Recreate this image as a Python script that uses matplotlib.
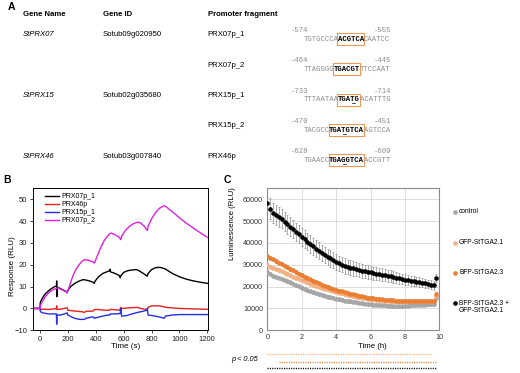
import matplotlib
matplotlib.use("Agg")
import matplotlib.pyplot as plt
import matplotlib.transforms as mtransforms
import numpy as np
from matplotlib.patches import Rectangle

plt.rcParams["font.family"] = ["Liberation Sans", "DejaVu Sans"]

# ---------------- panel A: table ----------------
gene_names = ["StPRX07", "", "StPRX15", "", "StPRX46"]
gene_ids = ["Sotub09g020950", "", "Sotub02g035680", "", "Sotub03g007840"]
fragments = ["PRX07p_1", "PRX07p_2", "PRX15p_1", "PRX15p_2", "PRX46p"]
pos_start = ["-574", "-464", "-733", "-470", "-628"]
pos_end = ["-555", "-445", "-714", "-451", "-609"]
seq_left = ["TGTGCCCA", "TTAGGGG", "TTTAATAA", "TACGCC", "TGAACC"]
seq_motif = ["ACGTCA", "TGACGT", "TGATG", "TGATGTCA", "TGAGGTCA"]
seq_right = ["CAATCC", "TTCCAAT", "ACATTTG", "AGTCCA", "ACCGTT"]
underline_idx = [None, None, 3, 3, 3]

# ---------------- panel B: SPR sensorgrams ----------------
b_labels = ["PRX07p_1", "PRX46p", "PRX15p_1", "PRX07p_2"]
b_colors = ["black", "#E8201E", "#2630E0", "#E020E0"]

prx07p1_t = [-50, 0, 2, 5, 20, 40, 60, 80, 100, 118, 120, 121, 122, 150, 180, 190, 195, 200,
             220, 250, 280, 310, 330, 360, 380, 390, 395, 420, 450, 480, 500, 502, 505,
             540, 570, 575, 580, 600, 630, 660, 690, 700, 730, 760, 770, 775, 800, 830,
             860, 880, 900, 950, 1000, 1050, 1100, 1150, 1200]
prx07p1_r = [0, 0, 2.5, 3.2, 5, 6.8, 8, 9, 9.8, 10.3, 12.6, 5.4, 9.8, 9, 8, 7.7, 7.5, 8.3,
             10, 11.5, 12.5, 13.2, 13, 12.5, 12, 11.5, 12.5, 14.5, 16, 16.8, 17.3, 18, 16.8,
             16, 15, 14, 15, 16.5, 17.3, 17.6, 17.8, 17.6, 16.5, 15.2, 14.8, 16, 17.8, 18.7,
             18.8, 18.5, 18, 16, 14.5, 13.4, 12.6, 12, 11.5]

prx46p_t = [-50, 0, 5, 30, 60, 100, 118, 120, 122, 150, 195, 200, 250, 300, 320, 330, 380,
            390, 420, 460, 500, 505, 570, 580, 585, 650, 700, 720, 770, 775, 800, 850,
            890, 900, 1000, 1100, 1200]
prx46p_r = [0, 0, -0.5, -0.3, -0.5, -0.2, 0, 1.2, -0.5, -0.3, 0.3, -0.8, -1.2, -1.5, -1.8,
            -1.3, -1.2, -0.5, -0.5, -0.8, -0.8, -0.4, -0.8, 0.5, 0, 0.3, 0.5, 0, -0.5, 0.5,
            1.2, 1.2, 0.8, 0.5, 0, -0.2, -0.4]

prx15p1_t = [-50, 0, 3, 20, 60, 110, 118, 120, 122, 150, 190, 195, 200, 240, 280, 320, 330,
             380, 390, 400, 430, 470, 500, 505, 550, 575, 580, 585, 620, 660, 700, 740,
             765, 770, 775, 800, 850, 890, 900, 950, 1000, 1100, 1200]
prx15p1_r = [0, 0, -1.5, -2, -2.5, -2.5, -2.5, -7.2, -3, -3, -2.2, -2, -3, -4.3, -5, -5,
             -4.5, -3.8, -4.5, -4.3, -3.8, -3.2, -3, -2.5, -2.5, -2.3, 0, -3.5, -3.3, -2.5,
             -1.8, -1.3, -0.8, 0, -3, -3.2, -3.8, -4.5, -3.5, -3, -2.8, -2.8, -2.8]

prx07p2_t = [-50, 0, 5, 20, 40, 60, 80, 100, 120, 125, 150, 190, 195, 200, 220, 240, 260,
             280, 300, 315, 330, 350, 380, 390, 395, 420, 440, 460, 480, 500, 510, 530,
             560, 575, 580, 585, 610, 640, 670, 700, 720, 750, 765, 770, 775, 800, 830,
             860, 890, 900, 950, 1000, 1050, 1100, 1150, 1200]
prx07p2_r = [0, 0, 1.5, 3.5, 5.5, 7, 8, 8.8, 9.2, 9.5, 8.8, 7.5, 7, 8, 12, 15.5, 18, 20,
             21.5, 22.2, 22.3, 22, 21.3, 20.8, 21.5, 25.5, 28.5, 31, 32.8, 34.2, 34.5, 34,
             33, 32, 31.5, 33, 35.5, 37.5, 38.8, 39.5, 39.2, 37.5, 36, 35.8, 37.5, 41, 44,
             46, 47, 46.8, 44.2, 41.5, 39, 36.8, 34.6, 32.6]

# ---------------- panel C: luminescence time course ----------------
time_min = list(range(0, 600, 10))
c_labels = ["control", "GFP-StTGA2.1", "BFP-StTGA2.3", "BFP-StTGA2.3 +\nGFP-StTGA2.1"]
c_colors = ["#A6A6A6", "#F4B183", "#ED7D31", "black"]

control = [26900, 25800, 25000, 24600, 24100, 23600, 23000, 22400, 21900, 21300,
           20700, 20200, 19500, 18900, 18400, 17900, 17400, 17000, 16600, 16200,
           15800, 15400, 15100, 14800, 14500, 14200, 13900, 13600, 13400, 13200,
           13000, 12800, 12600, 12400, 12200, 12000, 11900, 11800, 11700, 11600,
           11500, 11400, 11300, 11200, 11100, 11100, 11000, 11100, 11200, 11300,
           11400, 11500, 11600, 11700, 11800, 11800, 11900, 11900, 12000, 15000]
gfp_tga21 = [30000, 29200, 28700, 28200, 27600, 27000, 26400, 25800, 25200, 24600,
             24000, 23500, 23000, 22400, 21900, 21400, 20900, 20400, 20000, 19500,
             19100, 18700, 18300, 17900, 17600, 17200, 16900, 16600, 16300, 16000,
             15700, 15400, 15200, 15000, 14700, 14500, 14300, 14100, 14000, 13800,
             13700, 13600, 13500, 13400, 13300, 13300, 13200, 13200, 13200, 13200,
             13200, 13200, 13200, 13200, 13200, 13300, 13300, 13300, 13300, 15800]
bfp_tga23 = [34000, 33000, 32500, 31800, 31000, 30300, 29600, 28900, 28100, 27400,
             26700, 26000, 25300, 24600, 23900, 23300, 22600, 22000, 21500, 20900,
             20400, 19900, 19400, 19000, 18600, 18200, 17800, 17400, 17000, 16700,
             16400, 16100, 15800, 15500, 15200, 15000, 14800, 14600, 14400, 14300,
             14100, 14000, 13900, 13800, 13700, 13600, 13600, 13500, 13500, 13500,
             13500, 13500, 13500, 13500, 13500, 13500, 13600, 13600, 13600, 16800]
both = [58200, 55600, 53500, 52900, 52000, 51000, 49800, 48600, 47400, 46300,
        45100, 44000, 42900, 41700, 40600, 39500, 38400, 37400, 36400, 35400,
        34500, 33700, 32900, 32100, 31200, 30600, 30000, 29500, 29000, 28600,
        28300, 28000, 27700, 27300, 27000, 26700, 26500, 26200, 26000, 25700,
        25500, 25200, 25000, 24700, 24400, 24100, 23800, 23500, 23200, 23000,
        22700, 22500, 22300, 22100, 21800, 21500, 21200, 20900, 20600, 23800]
both_sd = [3000, 4800, 4600, 4500, 4500, 4400, 4400, 4300, 4300, 4200,
           4200, 4100, 4100, 4000, 4000, 3900, 3900, 3900, 3800, 3800,
           3800, 3700, 3700, 3700, 3600, 3600, 3500, 3500, 3400, 3400,
           3300, 3300, 3200, 3200, 3100, 3100, 3000, 3000, 2900, 2900,
           2800, 2800, 2700, 2700, 2600, 2600, 2500, 2500, 2400, 2400,
           2300, 2300, 2200, 2200, 2100, 2100, 2000, 2000, 2000, 1800]
small_sd = [700, 700, 800]  # control, GFP, BFP
sig_ranges = [(0.0, 9.5), (0.7, 9.85), (0.0, 9.85)]  # GFP, BFP, both (h)
sig_colors = ["#F4B183", "#ED7D31", "black"]

W, H = 520, 373
fig = plt.figure(figsize=(W / 100, H / 100), dpi=100)
fig.patch.set_facecolor("white")

# overlay in pixel coordinates for table text and free labels
ax0 = fig.add_axes([0, 0, 1, 1])
ax0.set_xlim(0, W)
ax0.set_ylim(H, 0)
ax0.axis("off")

fs_tab = 5.6
ax0.text(11, 7, "A", fontsize=7.5, fontweight="bold", ha="center", va="center")
ax0.text(23, 14, "Gene Name", fontsize=fs_tab, fontweight="bold", va="center")
ax0.text(103, 14, "Gene ID", fontsize=fs_tab, fontweight="bold", va="center")
ax0.text(207.5, 14, "Promoter fragment", fontsize=fs_tab, fontweight="bold", va="center")

mono = "Liberation Mono"
fs_seq = 5.2
cw = 0.6 * fs_seq * 100 / 72
seq_x0 = 303.3
row_y0, row_dy = 35.0, 30.3
for i in range(len(fragments)):
    y = row_y0 + i * row_dy
    ax0.text(23, y, gene_names[i], fontsize=fs_tab, fontstyle="italic", va="center")
    ax0.text(103, y, gene_ids[i], fontsize=fs_tab, va="center")
    ax0.text(207.5, y, fragments[i], fontsize=fs_tab, va="center")
    ny, sy = y - 4.3, y + 4.2
    ax0.text(291, ny, pos_start[i], family=mono, fontsize=fs_seq, color="#8C8C8C",
             ha="left", va="center")
    ax0.text(391, ny, pos_end[i], family=mono, fontsize=fs_seq, color="#8C8C8C",
             ha="right", va="center")
    n1, n2 = len(seq_left[i]), len(seq_motif[i])
    ax0.text(seq_x0, sy, seq_left[i], family=mono, fontsize=fs_seq, color="#8C8C8C",
             ha="left", va="center")
    ax0.text(seq_x0 + n1 * cw, sy, seq_motif[i], family=mono, fontsize=fs_seq,
             fontweight="bold", color="black", ha="left", va="center")
    ax0.text(seq_x0 + (n1 + n2) * cw, sy, seq_right[i], family=mono, fontsize=fs_seq,
             color="#8C8C8C", ha="left", va="center")
    bx = seq_x0 + n1 * cw - 0.6
    ax0.add_patch(Rectangle((bx, sy - 6.2), n2 * cw + 1.0, 12.0, fill=False,
                            edgecolor="#EE9A55", lw=0.8))
    if underline_idx[i] is not None:
        ux = seq_x0 + (n1 + underline_idx[i]) * cw
        ax0.plot([ux + 0.8, ux + cw - 0.8], [sy + 3.6, sy + 3.6], color="black", lw=0.5)

# ---------------- panel B ----------------
axB = fig.add_axes([32.7 / W, 1 - 330.3 / H, 175.6 / W, 142 / H])
b_t = [prx07p1_t, prx46p_t, prx15p1_t, prx07p2_t]
b_r = [prx07p1_r, prx46p_r, prx15p1_r, prx07p2_r]
for t, r, c, lab in zip(b_t, b_r, b_colors, b_labels):
    axB.plot(t, r, color=c, lw=1.0, label=lab)
axB.set_xlim(-52, 1207)
axB.set_ylim(-10, 55)
axB.set_xticks(np.arange(0, 1201, 200))
axB.set_yticks(np.arange(-10, 51, 10))
axB.tick_params(direction="out", length=2.5, width=0.6, labelsize=5.5, pad=1.5,
                colors="#222222")
for sp in axB.spines.values():
    sp.set_linewidth(0.7)
axB.legend(loc="upper left", bbox_to_anchor=(0.045, 1.0), frameon=False, fontsize=5,
           handlelength=2.0, labelspacing=0.15, handletextpad=0.3, borderaxespad=0.3)
ax0.text(6.7, 179.7, "B", fontsize=7.5, fontweight="bold", ha="center", va="center")
ax0.text(126, 346.7, "Time (s)", fontsize=5.8, ha="center", va="center")
ax0.text(12.7, 266, "Response (RLU)", fontsize=5.8, rotation=90, ha="center", va="center")

# ---------------- panel C ----------------
axC = fig.add_axes([267.3 / W, 1 - 330.3 / H, 172 / W, 142 / H])
t_h = np.array(time_min) / 60.0
c_vals = [control, gfp_tga21, bfp_tga23, both]
c_sd = [np.full(len(time_min), s) for s in small_sd] + [np.array(both_sd)]
for v, sd, c in zip(c_vals, c_sd, c_colors):
    axC.errorbar(t_h, v, yerr=sd, fmt="o", ms=2.3, mfc=c, mec=c, ecolor="#8C8C8C",
                 elinewidth=0.5, capsize=1.0, capthick=0.5, zorder=3)
axC.set_xlim(0, 10)
axC.set_ylim(0, 65000)
axC.set_xticks(np.arange(0, 11, 2))
axC.set_yticks(np.arange(0, 60001, 10000))
axC.grid(color="#D9D9D9", lw=0.6)
axC.set_axisbelow(True)
axC.tick_params(length=0, labelsize=5.2, pad=3, colors="#333333")
for sp in axC.spines.values():
    sp.set_color("#8C8C8C")
    sp.set_linewidth(0.8)
ax0.text(227, 180, "C", fontsize=7.5, fontweight="bold", ha="center", va="center")
ax0.text(372, 346.7, "Time (h)", fontsize=5.6, ha="center", va="center")
ax0.text(233, 224, "Luminescence (RLU)", fontsize=5.6, rotation=90, ha="center",
         va="center")

# legend for C
leg_y = [211.7, 242.7, 272.7, 302.7]
for y, c, lab in zip(leg_y, c_colors, c_labels):
    ax0.plot(455, y, "o", ms=2.3, color=c)
    if "\n" in lab:
        ax0.text(459, y - 2.5, lab, fontsize=4.8, ha="left", va="top", linespacing=1.05)
    else:
        ax0.text(459, y, lab, fontsize=4.8, ha="left", va="center")

# significance rows under C
trans = mtransforms.blended_transform_factory(axC.transData, ax0.transData)
sig_y = [354.3, 361.7, 367.7]
for (t0, t1), c, y in zip(sig_ranges, sig_colors, sig_y):
    axC.plot([t0, t1], [y, y], color=c, lw=1.0, ls=(0, (0.8, 0.9)), transform=trans,
             clip_on=False)
ax0.text(231, 359.3, "p < 0.05", fontsize=5.3, fontstyle="italic", ha="left",
         va="center")

fig.savefig("out.png", dpi=100, facecolor="white")
